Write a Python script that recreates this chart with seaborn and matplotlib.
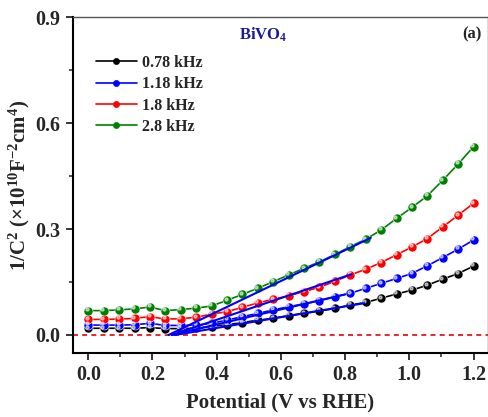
import numpy as np
import pandas as pd
import seaborn as sns
import matplotlib
matplotlib.use("Agg")
import matplotlib.pyplot as plt
from matplotlib.ticker import MultipleLocator, FormatStrFormatter
from matplotlib.lines import Line2D
import matplotlib.transforms as mtransforms

# Potential grid (V vs RHE)
potential = [0.0, 0.048, 0.096, 0.144, 0.192, 0.24, 0.288, 0.336, 0.384, 0.432,
             0.48, 0.528, 0.576, 0.624, 0.672, 0.72, 0.768, 0.816, 0.864, 0.912,
             0.96, 1.008, 1.056, 1.104, 1.152, 1.2]

# 1/C^2 (x10^10 F^-2 cm^4) at each frequency
inv_c2_078 = [0.019, 0.019, 0.019, 0.019, 0.021, 0.018, 0.018, 0.019, 0.024, 0.029,
              0.035, 0.042, 0.047, 0.055, 0.061, 0.068, 0.075, 0.085, 0.092, 0.104,
              0.116, 0.127, 0.141, 0.158, 0.174, 0.195]
inv_c2_118 = [0.028, 0.028, 0.028, 0.029, 0.033, 0.027, 0.027, 0.028, 0.033, 0.042,
              0.052, 0.061, 0.071, 0.080, 0.088, 0.097, 0.108, 0.118, 0.132, 0.146,
              0.160, 0.174, 0.196, 0.219, 0.243, 0.269]
inv_c2_18 = [0.044, 0.044, 0.045, 0.047, 0.052, 0.045, 0.046, 0.050, 0.059, 0.066,
             0.078, 0.091, 0.101, 0.111, 0.123, 0.135, 0.152, 0.170, 0.186, 0.205,
             0.227, 0.249, 0.273, 0.306, 0.339, 0.373]
inv_c2_28 = [0.069, 0.069, 0.071, 0.074, 0.079, 0.069, 0.072, 0.076, 0.082, 0.098,
             0.115, 0.132, 0.151, 0.170, 0.189, 0.207, 0.228, 0.250, 0.271, 0.297,
             0.330, 0.361, 0.394, 0.438, 0.484, 0.533]

freq_labels = ["0.78 kHz", "1.18 kHz", "1.8 kHz", "2.8 kHz"]
series = [inv_c2_078, inv_c2_118, inv_c2_18, inv_c2_28]
colors = ["#000000", "#0000ff", "#ff0000", "#008000"]

# Linear Mott-Schottky fits: (x start, x end) and (y start, y end)
fit_x = [[0.27, 0.86], [0.26, 0.80], [0.26, 0.82], [0.25, 0.88]]
fit_y = [[0.0, 0.090], [0.0, 0.115], [0.0, 0.172], [0.0, 0.275]]

df = pd.DataFrame({
    "Potential": potential * 4,
    "InvC2": inv_c2_078 + inv_c2_118 + inv_c2_18 + inv_c2_28,
    "Frequency": sum([[lab] * len(potential) for lab in freq_labels], []),
})

sns.set_style("ticks")
plt.rcParams["font.family"] = ["Liberation Serif", "DejaVu Serif"]
plt.rcParams["font.weight"] = "bold"
plt.rcParams["mathtext.fontset"] = "custom"
plt.rcParams["mathtext.rm"] = "Liberation Serif:bold"
plt.rcParams["mathtext.bf"] = "Liberation Serif:bold"
plt.rcParams["mathtext.it"] = "Liberation Serif:bold"

fig = plt.figure(figsize=(4.89, 4.17), dpi=100)
ax = fig.add_axes([0.149, 0.1535, 0.849, 0.8055])

# zero reference line
ax.axhline(0, color="#e8000b", lw=1.2, ls=(0, (3, 2.5)), zorder=1)

palette = dict(zip(freq_labels, colors))
sns.lineplot(data=df, x="Potential", y="InvC2", hue="Frequency", palette=palette,
             marker="o", markersize=6.5, markeredgewidth=0.4, lw=1.2,
             legend=False, ax=ax, zorder=3)

# glossy highlight on each marker
hl = mtransforms.offset_copy(ax.transData, fig=fig, x=-1.0, y=1.2, units="points")
for vals in series:
    ax.plot(potential, vals, ls="none", marker="o", markersize=2.2,
            color="white", alpha=0.55, transform=hl, zorder=4)

for fx, fy in zip(fit_x, fit_y):
    ax.plot(fx, fy, color="#0000ff", lw=1.5, zorder=5)

ax.set_xlim(-0.048, 1.245)
ax.set_ylim(-0.051, 0.9)
ax.xaxis.set_major_locator(MultipleLocator(0.2))
ax.xaxis.set_minor_locator(MultipleLocator(0.1))
ax.yaxis.set_major_locator(MultipleLocator(0.3))
ax.yaxis.set_minor_locator(MultipleLocator(0.15))
ax.xaxis.set_major_formatter(FormatStrFormatter("%.1f"))
ax.yaxis.set_major_formatter(FormatStrFormatter("%.1f"))
ax.tick_params(which="major", direction="out", length=5, width=1.3, labelsize=14.5,
               top=False, right=False, pad=4)
ax.tick_params(which="minor", direction="out", length=3, width=1.1,
               top=False, right=False)
for lab in ax.get_xticklabels() + ax.get_yticklabels():
    lab.set_fontweight("bold")

for side in ["left", "bottom"]:
    ax.spines[side].set_linewidth(1.5)
    ax.spines[side].set_color("black")
for side in ["top", "right"]:
    ax.spines[side].set_linewidth(1.0)
    ax.spines[side].set_color("#555555")

ax.set_xlabel("Potential (V vs RHE)", fontsize=15, fontweight="bold", labelpad=5)
ax.set_ylabel(r"1/C$^{2}$ (×10$^{10}$F$^{-2}$cm$^{4}$)", fontsize=15,
              fontweight="bold", labelpad=2)

handles = [Line2D([], [], color=c, lw=1.2, marker="o", markersize=4.5,
                  markeredgewidth=0.4) for c in colors]
leg = ax.legend(handles, freq_labels, loc="upper left", bbox_to_anchor=(0.02, 0.93),
                frameon=False, handlelength=2.6, handletextpad=0.3,
                labelspacing=0.33, prop={"weight": "bold", "size": 11.5})

ax.text(0.458, 0.946, r"BiVO$_{4}$", transform=ax.transAxes, color="#1a1a99",
        fontsize=12, fontweight="bold", ha="center", va="center")
ax.text(0.985, 0.95, "(a)", transform=ax.transAxes, fontsize=12,
        fontweight="bold", ha="right", va="center")

fig.savefig("out.png", dpi=100)
